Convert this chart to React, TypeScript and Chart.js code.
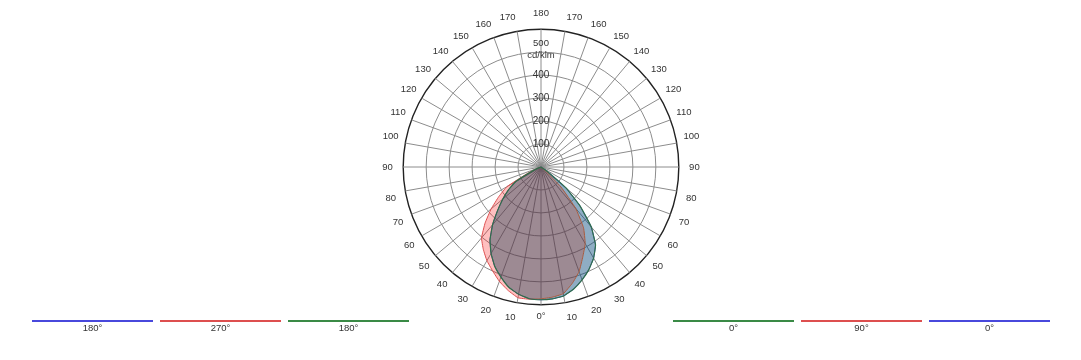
import React, { useEffect, useRef } from 'react';
import { Chart, registerables } from 'chart.js';

Chart.register(...registerables);

// Gamma angles of each half plane, 5° steps from 0° (down) to 180° (up)
const gammaAngles = [
  0, 5, 10, 15, 20, 25, 30, 35, 40, 45, 50, 55, 60, 65, 70, 75, 80, 85, 90,
  95, 100, 105, 110, 115, 120, 125, 130, 135, 140, 145, 150, 155, 160, 165, 170, 175, 180,
];

// Luminous intensity, cd/klm, per C-plane (values at gammaAngles)
const c0Values = [
  578, 576, 570, 550, 523, 493, 458, 414, 340, 241, 142, 35, 0, 0, 0, 0, 0, 0, 0,
  0, 0, 0, 0, 0, 0, 0, 0, 0, 0, 0, 0, 0, 0, 0, 0, 0, 0,
];
const c180Values = [
  574, 576, 563, 542, 510, 477, 435, 387, 328, 267, 217, 173, 127, 40, 8, 0, 0, 0, 0,
  0, 0, 0, 0, 0, 0, 0, 0, 0, 0, 0, 0, 0, 0, 0, 0, 0, 0,
];
const c90Values = [
  574, 569, 560, 525, 485, 431, 385, 323, 235, 123, 20, 0, 0, 0, 0, 0, 0, 0, 0,
  0, 0, 0, 0, 0, 0, 0, 0, 0, 0, 0, 0, 0, 0, 0, 0, 0, 0,
];
const c270Values = [
  574, 578, 578, 556, 530, 499, 471, 438, 403, 344, 283, 224, 171, 62, 12, 0, 0, 0, 0,
  0, 0, 0, 0, 0, 0, 0, 0, 0, 0, 0, 0, 0, 0, 0, 0, 0, 0,
];

// Radial scale
const radialMax = 600;
const radialStep = 100;
const radialTickLabels = [100, 200, 300, 400];
const unitTickValue = 500;
const unitLabel = 'cd/klm';

// Legend entries (left: planes on the left half, right: planes on the right half)
const legendLeftLabels = ['180°', '270°', '180°'];
const legendRightLabels = ['0°', '90°', '0°'];

const BLUE = '#4848dc';
const RED = '#dd4f4f';
const GREEN = '#3a8a46';
const legendLeftColors = [BLUE, RED, GREEN];
const legendRightColors = [GREEN, RED, BLUE];

const FONT = "'Liberation Sans', Arial, sans-serif";
const HALF = gammaAngles.length - 1; // 36

// full ring, index 0 at top (180°) going clockwise: right half then left half
function ringGammas(): number[] {
  const out: number[] = [];
  for (let i = 0; i < HALF * 2; i++) {
    out.push(i <= HALF ? gammaAngles[HALF - i] : gammaAngles[i - HALF]);
  }
  return out;
}
function ringValues(right: number[], left: number[]): number[] {
  const out: number[] = [];
  for (let i = 0; i < HALF * 2; i++) {
    out.push(i <= HALF ? right[HALF - i] : left[i - HALF]);
  }
  return out;
}

const unitPlugin = {
  id: 'unitPlugin',
  afterDraw(chart: any) {
    const s = chart.scales.r;
    const ctx = chart.ctx;
    const r = s.getDistanceFromCenterForValue(unitTickValue);
    ctx.save();
    ctx.font = `9.5px ${FONT}`;
    ctx.fillStyle = '#333';
    ctx.textAlign = 'center';
    ctx.textBaseline = 'middle';
    ctx.fillText(String(unitTickValue), s.xCenter, s.yCenter - r - 8.5);
    ctx.fillText(unitLabel, s.xCenter, s.yCenter - r + 3.5);
    ctx.restore();
  },
};

export default function App() {
  const ref = useRef<HTMLCanvasElement>(null);

  useEffect(() => {
    const gammas = ringGammas();
    const labels = gammas.map((g) => (g % 10 !== 0 ? '' : g === 0 ? '0°' : String(g)));
    const chart = new Chart(ref.current!, {
      type: 'radar',
      data: {
        labels,
        datasets: [
          {
            label: 'C0-C180',
            data: ringValues(c0Values, c180Values),
            borderColor: BLUE,
            backgroundColor: 'rgba(0,0,255,0.27)',
            borderWidth: 1,
            fill: true,
            order: 2,
          },
          {
            label: 'C90-C270',
            data: ringValues(c90Values, c270Values),
            borderColor: RED,
            backgroundColor: 'rgba(255,0,0,0.25)',
            borderWidth: 1,
            fill: true,
            order: 1,
          },
          {
            label: 'C0-C180 ',
            data: ringValues(c0Values, c180Values),
            borderColor: '#2f6f4a',
            backgroundColor: 'rgba(0,128,0,0.23)',
            borderWidth: 1.2,
            fill: true,
            order: 0,
          },
        ],
      },
      options: {
        responsive: false,
        animation: false,
        devicePixelRatio: 1,
        elements: {
          point: { radius: 0, hoverRadius: 0 },
          line: { tension: 0.1 },
        },
        plugins: {
          legend: { display: false },
          tooltip: { enabled: false },
        },
        scales: {
          r: {
            min: 0,
            max: radialMax,
            beginAtZero: true,
            ticks: {
              stepSize: radialStep,
              showLabelBackdrop: false,
              color: '#333',
              font: { family: FONT, size: 10 },
              callback: (v: any) => (radialTickLabels.includes(Number(v)) ? String(v) : ''),
            },
            grid: {
              circular: true,
              color: (c: any) => (c.tick && c.tick.value === radialMax ? '#222' : '#8c8c8c'),
              lineWidth: (c: any) => (c.tick && c.tick.value === radialMax ? 1.4 : 1),
            },
            angleLines: {
              color: (c: any) => (c.index % 2 === 0 ? '#8c8c8c' : 'rgba(0,0,0,0)'),
              lineWidth: (c: any) => (c.index % 2 === 0 ? 1 : 0),
            },
            pointLabels: {
              color: '#333',
              font: { family: FONT, size: 9.5 },
              padding: (c: any) => {
                const a = (c.index * 5 * Math.PI) / 180;
                const w = (c.label ? String(c.label).length : 0) * 5.2;
                const target = c.label === '0°' ? 149 : 152.5;
                return target - 137 - 7 - (Math.abs(Math.sin(a)) * w) / 2 - Math.abs(Math.cos(a)) * 5.7;
              },
            },
          },
        },
      },
      plugins: [unitPlugin],
    });
    return () => chart.destroy();
  }, []);

  const itemStyle = (left: number): React.CSSProperties => ({
    position: 'absolute',
    left,
    top: 320,
    width: 121,
  });

  const leftX = [32, 160, 288];
  const rightX = [673, 801, 929];

  return (
    <div style={{ position: 'fixed', left: 0, top: 0, width: 1081, height: 360, background: '#fff' }}>
      <canvas ref={ref} width={1079} height={318} style={{ position: 'absolute', left: 2, top: 8 }} />
      {legendLeftLabels.map((t, i) => (
        <div key={'l' + i} style={itemStyle(leftX[i])}>
          <div style={{ height: 1.5, background: legendLeftColors[i] }} />
          <div style={{ textAlign: 'center', font: `9.5px ${FONT}`, lineHeight: '12px', color: '#333' }}>{t}</div>
        </div>
      ))}
      {legendRightLabels.map((t, i) => (
        <div key={'r' + i} style={itemStyle(rightX[i])}>
          <div style={{ height: 1.5, background: legendRightColors[i] }} />
          <div style={{ textAlign: 'center', font: `9.5px ${FONT}`, lineHeight: '12px', color: '#333' }}>{t}</div>
        </div>
      ))}
    </div>
  );
}
